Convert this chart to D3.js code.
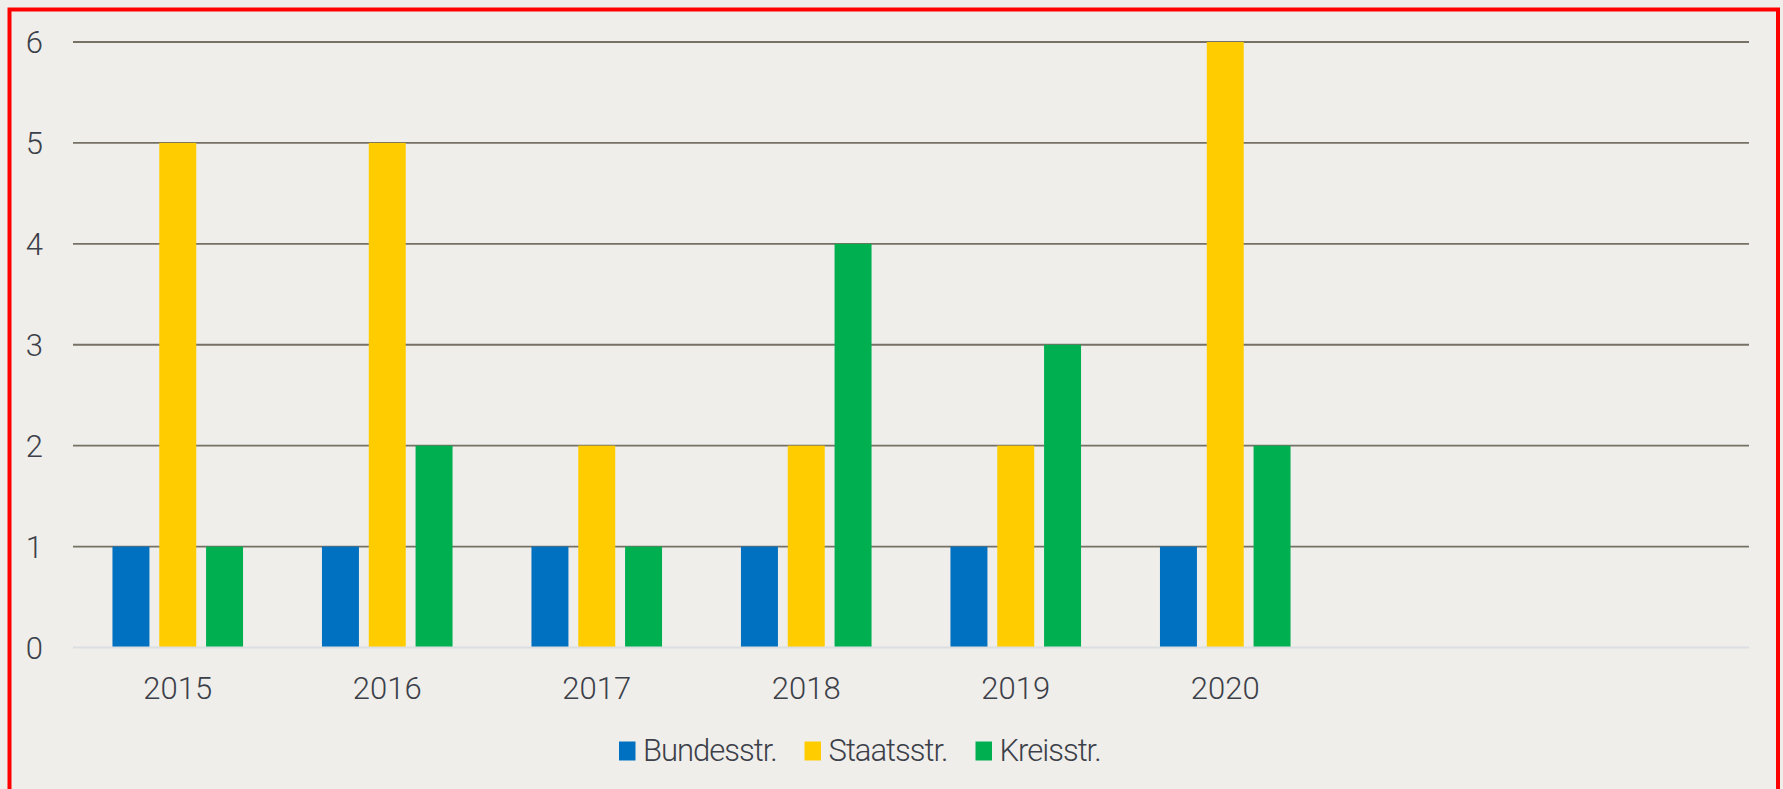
<!DOCTYPE html>
<html>
<head>
<meta charset="utf-8">
<script src="https://cdn.jsdelivr.net/npm/d3@7"></script>
<style>
  html, body { margin: 0; padding: 0; background: #efeeea; }
  svg { display: block; }
  text { font-family: Roboto, "Open Sans", sans-serif; font-weight: 300; fill: #3c4049; }
</style>
</head>
<body>
<svg id="chart" width="1783" height="789"></svg>
<script>
const categories = ["2015", "2016", "2017", "2018", "2019", "2020"];
const slotCount = 8; // category axis has room for 8 years, only 6 filled
const series = ["Bundesstr.", "Staatsstr.", "Kreisstr."];
const bundesstr = [1, 1, 1, 1, 1, 1];
const staatsstr = [5, 5, 2, 2, 2, 6];
const kreisstr = [1, 2, 1, 4, 3, 2];
const yTicks = [0, 1, 2, 3, 4, 5, 6];
const colors = ["#0070c0", "#ffcc00", "#00b050"];

(function () {
const values = [bundesstr, staatsstr, kreisstr];
const svg = d3.select("#chart");
const W = 1783, H = 789;
const mLeft = 73, mRight = 1749, mTop = 42, mBottom = 647.5;

svg.append("rect").attr("width", W).attr("height", H).attr("fill", "#efeeea");

const x0 = d3.scaleBand().domain(d3.range(slotCount)).range([mLeft, mRight]).padding(0);
const x1 = d3.scaleBand().domain(series).range([0, x0.bandwidth()])
  .paddingInner(0.21).paddingOuter(0.843);
const y = d3.scaleLinear().domain([0, 6]).range([mBottom, mTop]);

// gridlines
const grid = svg.append("g");
grid.selectAll("line").data(yTicks.filter(d => d > 0)).join("line")
  .attr("x1", mLeft).attr("x2", mRight)
  .attr("y1", d => y(d)).attr("y2", d => y(d))
  .attr("stroke", "#767164").attr("stroke-width", 1.8);

// bars
const rows = categories.map((c, i) => ({ i, vals: series.map((s, k) => ({ s, k, v: values[k][i] })) }));
const groups = svg.append("g").selectAll("g").data(rows).join("g")
  .attr("transform", d => `translate(${x0(d.i)},0)`);
groups.selectAll("rect").data(d => d.vals).join("rect")
  .attr("x", d => x1(d.s))
  .attr("width", x1.bandwidth())
  .attr("y", d => y(d.v))
  .attr("height", d => y(0) - y(d.v))
  .attr("fill", d => colors[d.k]);

// zero axis line
svg.append("line").attr("x1", mLeft).attr("x2", mRight)
  .attr("y1", y(0)).attr("y2", y(0))
  .attr("stroke", "#dcdfe2").attr("stroke-width", 2);

// y axis labels
const yAxis = d3.axisLeft(y).tickValues(yTicks).tickSize(0).tickPadding(0).tickFormat(d3.format("d"));
const yg = svg.append("g").attr("transform", "translate(43,0)").call(yAxis);
yg.select(".domain").remove();
yg.attr("font-family", null).attr("font-size", null);
yg.selectAll("text").attr("font-size", 31).attr("dy", "0.35em").attr("x", 0);

// x axis labels
const xAxis = d3.axisBottom(x0).tickValues(d3.range(categories.length))
  .tickFormat(i => categories[i]).tickSize(0).tickPadding(0);
const xg = svg.append("g").attr("transform", "translate(0,699)").call(xAxis);
xg.select(".domain").remove();
xg.attr("font-family", null).attr("font-size", null);
xg.selectAll("text").attr("font-size", 31).attr("dy", 0).attr("y", 0);

// legend
const legendX = [619, 804.5, 975.5];
const lg = svg.append("g").selectAll("g").data(series).join("g")
  .attr("transform", (d, i) => `translate(${legendX[i]},0)`);
lg.append("rect").attr("x", 0).attr("y", 741.5).attr("width", 16.5).attr("height", 19)
  .attr("fill", (d, i) => colors[i]);
lg.append("text").attr("x", 24).attr("y", 761).attr("font-size", 31)
  .attr("letter-spacing", -1).text(d => d);

// red frame
svg.append("rect").attr("x", 9.5).attr("y", 9.5).attr("width", 1768.5).attr("height", 800)
  .attr("fill", "none").attr("stroke", "#ff0000").attr("stroke-width", 4);
})();
</script>
</body>
</html>
